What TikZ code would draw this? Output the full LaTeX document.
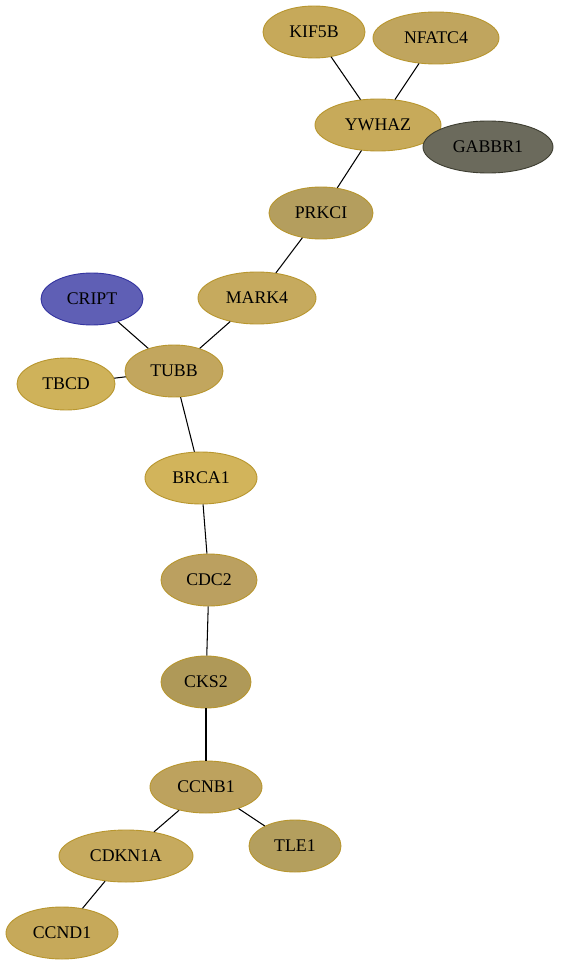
\documentclass[tikz,border=0pt]{standalone}
\usepackage{fontspec}
\setmainfont{Liberation Serif}
\usetikzlibrary{shapes.geometric}
\definecolor{gbd}{HTML}{B8962E}
\tikzset{
  gnode/.style={ellipse, draw=gbd, line width=0.9pt, inner sep=0pt, minimum height=52pt,
    font=\fontsize{17.8}{20}\selectfont, text=black},
  edge/.style={draw=black, line width=1.05pt}
}
\begin{document}
\begin{tikzpicture}[x=1pt,y=-1pt]
\useasboundingbox (0,0) rectangle (560,968);
\fill[white] (0,0) rectangle (560,968);
% nodes
\node[gnode, fill={rgb,255:red,198;green,169;blue,90}, minimum width=102pt] (kif) at (314,32) {KIF5B};
\node[gnode, fill={rgb,255:red,192;green,165;blue,94}, minimum width=126pt] (nfa) at (436,38) {NFATC4};
\node[gnode, fill={rgb,255:red,199;green,170;blue,90}, minimum width=126pt] (ywh) at (378,125) {YWHAZ};
\node[gnode, fill={rgb,255:red,107;green,106;blue,92}, draw={rgb,255:red,61;green,61;blue,48}, minimum width=130pt] (gab) at (488,147) {GABBR1};
\node[gnode, fill={rgb,255:red,180;green,158;blue,94}, minimum width=104pt] (prk) at (321,213) {PRKCI};
\node[gnode, fill={rgb,255:red,198;green,170;blue,94}, minimum width=118pt] (mar) at (257,298) {MARK4};
\node[gnode, fill={rgb,255:red,95;green,95;blue,181}, draw={rgb,255:red,51;green,51;blue,160}, minimum width=102pt] (cri) at (92,299) {CRIPT};
\node[gnode, fill={rgb,255:red,194;green,166;blue,94}, minimum width=98pt] (tub) at (174,371) {TUBB};
\node[gnode, fill={rgb,255:red,207;green,178;blue,90}, minimum width=98pt] (tbc) at (66,384) {TBCD};
\node[gnode, fill={rgb,255:red,210;green,180;blue,91}, minimum width=112pt] (brc) at (201,478) {BRCA1};
\node[gnode, fill={rgb,255:red,187;green,160;blue,96}, minimum width=96pt] (cdc) at (209,580) {CDC2};
\node[gnode, fill={rgb,255:red,175;green,153;blue,88}, minimum width=90pt] (cks) at (206,682) {CKS2};
\node[gnode, fill={rgb,255:red,189;green,162;blue,94}, minimum width=112pt] (ccb) at (206,787) {CCNB1};
\node[gnode, fill={rgb,255:red,198;green,170;blue,94}, minimum width=134pt] (cdk) at (126,856) {CDKN1A};
\node[gnode, fill={rgb,255:red,180;green,159;blue,94}, minimum width=92pt] (tle) at (295,846) {TLE1};
\node[gnode, fill={rgb,255:red,198;green,169;blue,90}, minimum width=112pt] (ccd) at (62,933) {CCND1};
% edges
\draw[edge] (kif) -- (ywh);
\draw[edge] (nfa) -- (ywh);
\draw[edge] (ywh) -- (prk);
\draw[edge] (prk) -- (mar);
\draw[edge] (mar) -- (tub);
\draw[edge] (cri) -- (tub);
\draw[edge] (tbc) -- (tub);
\draw[edge] (tub) -- (brc);
\draw[edge] (brc) -- (cdc);
\draw[edge] (cdc) -- (cks);
\draw[edge] (cks) -- (ccb);
\draw[edge] (ccb) -- (cdk);
\draw[edge] (ccb) -- (tle);
\draw[edge] (cdk) -- (ccd);
\end{tikzpicture}
\end{document}
